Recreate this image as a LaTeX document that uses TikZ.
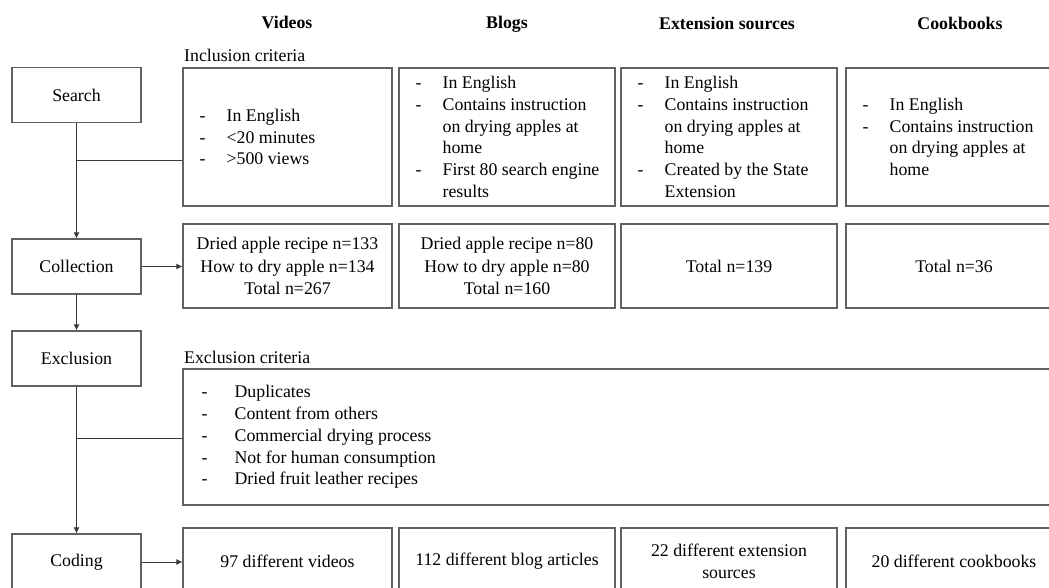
\documentclass[tikz,border=0pt]{standalone}
\usepackage{fontspec}
\setmainfont{Liberation Serif}
\usetikzlibrary{arrows.meta}
\newcommand{\dd}[1]{\makebox[27pt][l]{-}#1}
\newcommand{\cc}[1]{\hspace*{27pt}#1}
\newcommand{\ee}[1]{\makebox[33pt][l]{-}#1}
\begin{document}
\begin{tikzpicture}[x=1pt,y=-1pt,
  box/.style={draw=black!62, line width=1.1pt, rectangle, inner sep=0pt,
    font=\fontsize{17.8}{22.5}\selectfont, align=center},
  stage/.style={box, minimum width=129pt, minimum height=55pt},
  txt/.style={inner sep=0pt, font=\fontsize{17.8}{21.8}\selectfont, align=left},
  hdr/.style={inner sep=0pt, anchor=base, font=\fontsize{17.8}{22}\selectfont\bfseries},
  lbl/.style={inner sep=0pt, font=\fontsize{17.8}{22}\selectfont},
  conn/.style={draw=black!78, line width=1pt},
  arr/.style={conn, -{Latex[length=6pt,width=6pt]}}
]
\useasboundingbox (0,0) rectangle (1049,587);
\clip (0,0) rectangle (1049,587);
\fill[white] (0,0) rectangle (1049,587);

% headers
\node[hdr] (hv) at (287,28) {Videos};
\node[hdr] (hb) at (507,28) {Blogs};
\node[hdr] (he) at (727,29) {Extension sources};
\node[hdr] (hc) at (960,29) {Cookbooks};
\node[lbl, anchor=west] (incl) at (184,55) {Inclusion criteria};
\node[lbl, anchor=west] (excl) at (184,357) {Exclusion criteria};

% stages
\node[stage] (search) at (76.5,95) {Search};
\node[stage] (collection) at (76.5,266.5) {Collection};
\node[stage] (exclusion) at (76.5,358.5) {Exclusion};
\node[stage, minimum height=56pt] (coding) at (76.5,562) {Coding};

% inclusion row
\node[box, minimum width=209pt, minimum height=138pt] (vinc) at (287.5,137) {};
\node[box, minimum width=216pt, minimum height=138pt] (binc) at (507,137) {};
\node[box, minimum width=216pt, minimum height=138pt] (einc) at (729,137) {};
\node[box, minimum width=216pt, minimum height=138pt] (cinc) at (954,137) {};
\node[txt, anchor=west] (vinct) at ([xshift=17pt]vinc.west)
  {\dd{In English}\\\dd{<20 minutes}\\\dd{>500 views}};
\node[txt, anchor=west] (binct) at ([xshift=17pt]binc.west)
  {\dd{In English}\\\dd{Contains instruction}\\\cc{on drying apples at}\\\cc{home}\\\dd{First 80 search engine}\\\cc{results}};
\node[txt, anchor=west] (einct) at ([xshift=17pt]einc.west)
  {\dd{In English}\\\dd{Contains instruction}\\\cc{on drying apples at}\\\cc{home}\\\dd{Created by the State}\\\cc{Extension}};
\node[txt, anchor=west] (cinct) at ([xshift=17pt]cinc.west)
  {\dd{In English}\\\dd{Contains instruction}\\\cc{on drying apples at}\\\cc{home}};

% collection row
\node[box, minimum width=209pt, minimum height=84pt] (vcol) at (287.5,266)
  {Dried apple recipe n=133\\How to dry apple n=134\\Total n=267};
\node[box, minimum width=216pt, minimum height=84pt] (bcol) at (507,266)
  {Dried apple recipe n=80\\How to dry apple n=80\\Total n=160};
\node[box, minimum width=216pt, minimum height=84pt] (ecol) at (729,266) {Total n=139};
\node[box, minimum width=216pt, minimum height=84pt] (ccol) at (954,266) {Total n=36};

% exclusion criteria
\node[box, minimum width=879pt, minimum height=136pt] (exbox) at (622.5,437) {};
\node[txt, anchor=west] (exboxt) at ([xshift=19pt]exbox.west)
  {\ee{Duplicates}\\\ee{Content from others}\\\ee{Commercial drying process}\\\ee{Not for human consumption}\\\ee{Dried fruit leather recipes}};

% coding row
\node[box, minimum width=209pt, minimum height=67pt] (vcod) at (287.5,561.5) {97 different videos};
\node[box, minimum width=216pt, minimum height=67pt] (bcod) at (507,561.5) {112 different blog articles};
\node[box, minimum width=216pt, minimum height=67pt] (ecod) at (729,561.5) {22 different extension\\sources};
\node[box, minimum width=216pt, minimum height=67pt] (ccod) at (954,561.5) {20 different cookbooks};

% connectors
\coordinate (b1) at (76.5,160);
\coordinate (b2) at (76.5,438);
\draw[arr] (search) -- (collection);
\draw[conn] (b1) -- (b1 -| vinc.west);
\draw[arr] (collection.east) -- (collection.east -| vcol.west);
\draw[arr] (collection) -- (exclusion);
\draw[arr] (exclusion) -- (coding);
\draw[conn] (b2) -- (b2 -| exbox.west);
\draw[arr] (coding.east) -- (coding.east -| vcod.west);
\end{tikzpicture}
\end{document}
